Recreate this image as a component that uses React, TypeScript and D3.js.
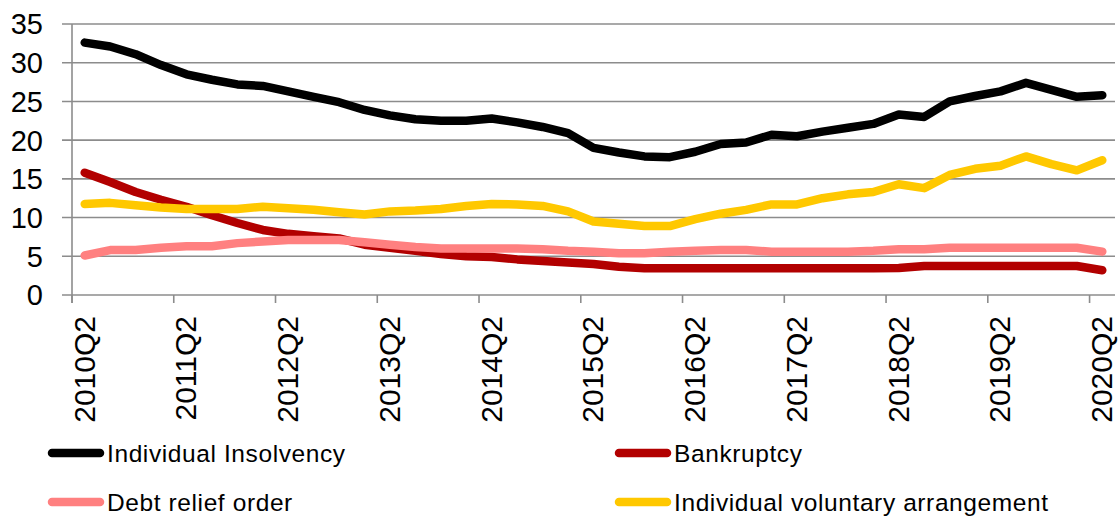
import React, { useEffect, useRef } from 'react';
import * as d3 from 'd3';

// quarters 2010Q2 .. 2020Q2
const quarters: string[] = [];
for (let y = 2010; y <= 2020; y++) {
  for (let q = 1; q <= 4; q++) {
    if ((y === 2010 && q < 2) || (y === 2020 && q > 2)) continue;
    quarters.push(`${y}Q${q}`);
  }
}

const insolvency = [
  32.6, 32.1, 31.1, 29.7, 28.5, 27.8, 27.2, 27.0, 26.3, 25.6,
  24.9, 23.9, 23.2, 22.7, 22.5, 22.5, 22.8, 22.3, 21.7, 20.9,
  19.0, 18.4, 17.9, 17.8, 18.5, 19.5, 19.7, 20.7, 20.5, 21.1,
  21.6, 22.1, 23.3, 23.0, 25.0, 25.7, 26.3, 27.4, 26.5, 25.6, 25.8,
];
const bankruptcy = [
  15.8, 14.6, 13.3, 12.3, 11.4, 10.3, 9.3, 8.4, 7.9, 7.6,
  7.3, 6.5, 6.1, 5.7, 5.3, 5.0, 4.9, 4.6, 4.4, 4.2,
  4.0, 3.65, 3.45, 3.45, 3.45, 3.45, 3.45, 3.45, 3.45, 3.45,
  3.45, 3.45, 3.5, 3.75, 3.75, 3.75, 3.75, 3.75, 3.75, 3.75, 3.2,
];
const debtRelief = [
  5.1, 5.8, 5.8, 6.1, 6.3, 6.3, 6.7, 6.9, 7.1, 7.1,
  7.1, 6.8, 6.5, 6.2, 6.0, 6.0, 6.0, 6.0, 5.9, 5.7,
  5.6, 5.4, 5.4, 5.6, 5.7, 5.8, 5.8, 5.6, 5.6, 5.6,
  5.6, 5.7, 5.9, 5.9, 6.1, 6.1, 6.1, 6.1, 6.1, 6.1, 5.6,
];
const iva = [
  11.75, 11.9, 11.6, 11.3, 11.1, 11.1, 11.1, 11.4, 11.2, 11.0,
  10.7, 10.4, 10.8, 10.9, 11.1, 11.5, 11.75, 11.7, 11.5, 10.8,
  9.5, 9.2, 8.9, 8.9, 9.8, 10.5, 11.0, 11.7, 11.7, 12.5,
  13.0, 13.3, 14.3, 13.8, 15.5, 16.3, 16.7, 17.9, 16.9, 16.1, 17.4,
];
const yTicks = [0, 5, 10, 15, 20, 25, 30, 35];

const series = [
  { name: 'Individual Insolvency', values: insolvency, color: '#000000' },
  { name: 'Bankruptcy', values: bankruptcy, color: '#B20000' },
  { name: 'Debt relief order', values: debtRelief, color: '#FF8080' },
  { name: 'Individual voluntary arrangement', values: iva, color: '#FFC800' },
];

const App = () => {
  const svgRef = useRef<SVGSVGElement>(null);

  useEffect(() => {
    const width = 1119;
    const height = 517;
    const left = 72, right = 1115, top = 24, bottom = 295;
    const font = 'Liberation Sans, Arial, sans-serif';
    const grid = '#8c8c8c';

    const svg = d3.select(svgRef.current);
    svg.selectAll('*').remove();
    svg.attr('width', width).attr('height', height);

    const x = d3.scaleBand<string>().domain(quarters).range([left, right]).paddingInner(0).paddingOuter(0);
    const y = d3.scaleLinear().domain([0, 35]).range([bottom, top]);
    const cx = (q: string) => (x(q) as number) + x.bandwidth() / 2;

    // gridlines + y ticks
    svg.append('g').selectAll('line').data(yTicks).enter().append('line')
      .attr('x1', left - 10).attr('x2', right)
      .attr('y1', d => y(d)).attr('y2', d => y(d))
      .attr('stroke', grid).attr('stroke-width', 1.6);

    svg.append('g').selectAll('text').data(yTicks).enter().append('text')
      .attr('x', 43).attr('y', d => y(d))
      .attr('dy', '0.36em')
      .attr('text-anchor', 'end')
      .style('font-family', font).style('font-size', '29px').attr('fill', '#000')
      .text(d => d);

    // y axis line
    svg.append('line')
      .attr('x1', left).attr('x2', left).attr('y1', top).attr('y2', bottom + 8)
      .attr('stroke', grid).attr('stroke-width', 1.6);

    // x ticks every 4 quarters at category boundaries
    const labelled = quarters.filter((_, i) => i % 4 === 0);
    svg.append('g').selectAll('line').data(labelled).enter().append('line')
      .attr('x1', d => x(d) as number).attr('x2', d => x(d) as number)
      .attr('y1', bottom).attr('y2', bottom + 8)
      .attr('stroke', grid).attr('stroke-width', 1.6);

    svg.append('g').selectAll('text').data(labelled).enter().append('text')
      .attr('transform', d => `translate(${cx(d) - 1},316) rotate(-90)`)
      .attr('text-anchor', 'end')
      .attr('dy', '0.36em')
      .style('font-family', font).style('font-size', '30px').attr('fill', '#000')
      .text(d => d);

    // lines
    const line = d3.line<number>()
      .x((_, i) => cx(quarters[i]))
      .y(d => y(d));

    series.forEach(s => {
      svg.append('path')
        .datum(s.values)
        .attr('fill', 'none')
        .attr('stroke', s.color)
        .attr('stroke-width', 8.5)
        .attr('stroke-linejoin', 'round')
        .attr('stroke-linecap', 'round')
        .attr('d', line);
    });

    // legend
    const legendPos = [
      { lx: 48, ly: 453 },
      { lx: 615, ly: 453 },
      { lx: 48, ly: 502 },
      { lx: 615, ly: 502 },
    ];
    series.forEach((s, i) => {
      const p = legendPos[i];
      const g = svg.append('g');
      g.append('line')
        .attr('x1', p.lx + 4).attr('x2', p.lx + 52)
        .attr('y1', p.ly).attr('y2', p.ly)
        .attr('stroke', s.color).attr('stroke-width', 8.5).attr('stroke-linecap', 'round');
      g.append('text')
        .attr('x', p.lx + 59).attr('y', p.ly).attr('dy', '0.36em')
        .style('font-family', font).style('font-size', '24.5px')
        .style('letter-spacing', '0.6px')
        .attr('fill', '#000')
        .text(s.name);
    });
  }, []);

  return (
    <svg ref={svgRef} style={{ position: 'absolute', left: 0, top: 0, background: '#fff' }}></svg>
  );
};

export default App;
